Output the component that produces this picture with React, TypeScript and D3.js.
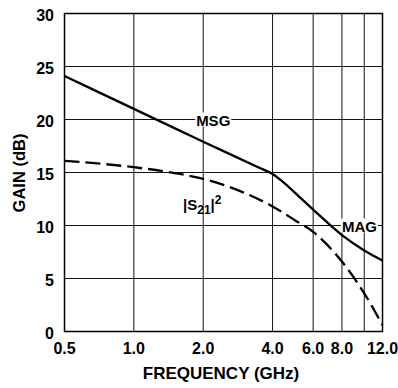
import React from 'react';
import * as d3 from 'd3';

// frequency in GHz, gain in dB
const msgFreq = [0.5, 1.0, 2.0, 3.5, 4.0, 4.5, 5.2, 6.0, 8.0, 10.0, 12.0];
const msgGain = [24.1, 21.0, 17.9, 15.45, 14.85, 14.0, 12.75, 11.5, 9.1, 7.65, 6.7];

const s21Freq = [0.5, 1.0, 1.5, 2.0, 3.0, 4.0, 5.0, 6.0, 8.0, 10.0, 12.0];
const s21Gain = [16.1, 15.5, 14.95, 14.4, 13.1, 11.8, 10.5, 9.4, 6.6, 3.6, 0.6];

const xTicks = [0.5, 1.0, 2.0, 4.0, 6.0, 8.0, 12.0];
const xGrid = [1, 2, 4, 6, 8, 10];
const yTicks = [0, 5, 10, 15, 20, 25, 30];
const yGrid = [5, 10, 15, 20, 25];

const W = 398;
const H = 388;
const FONT = '"Liberation Sans", Arial, Helvetica, sans-serif';

const App = () => {
  const x = d3.scaleLog().domain([0.5, 12]).range([64.5, 382.5]);
  const y = d3.scaleLinear().domain([0, 30]).range([331.5, 13.5]);

  const line = d3.line<[number, number]>()
    .x(d => x(d[0]))
    .y(d => y(d[1]))
    .curve(d3.curveMonotoneX);

  const msg = line(msgFreq.map((f, i) => [f, msgGain[i]]));
  const s21 = line(s21Freq.map((f, i) => [f, s21Gain[i]]));

  const [x0, x1] = x.range();
  const [y0, y1] = y.range();

  return (
    <svg width={W} height={H} style={{ position: 'absolute', left: 0, top: 0, background: '#fff' }}
      fontFamily={FONT} fontWeight="bold">
      {/* grid */}
      {yGrid.map(v => (
        <line key={'gy' + v} x1={x0} x2={x1} y1={y(v)} y2={y(v)} stroke="#111" strokeWidth={1} />
      ))}
      {xGrid.map(v => (
        <line key={'gx' + v} x1={x(v)} x2={x(v)} y1={y1} y2={y0} stroke="#111" strokeWidth={1} />
      ))}
      <rect x={x0} y={y1} width={x1 - x0} height={y0 - y1} fill="none" stroke="#000" strokeWidth={1.5} />

      {/* curves */}
      <path d={msg || ''} fill="none" stroke="#000" strokeWidth={2.3} />
      <path d={s21 || ''} fill="none" stroke="#000" strokeWidth={2.3} strokeDasharray="15,6" />

      {/* curve labels */}
      <rect x={x(2.0) - 8} y={y(20) - 7} width={36} height={14} fill="#fff" />
      <text x={x(2.0) + 10} y={y(20) + 6} fontSize={15} textAnchor="middle">MSG</text>
      <rect x={x(8.0) - 1} y={y(10) - 7} width={37} height={14} fill="#fff" />
      <text x={x(8.0) + 17.5} y={y(10) + 6} fontSize={15} textAnchor="middle">MAG</text>
      <text x={183} y={y(12.2) + 8} fontSize={15}>
        |S<tspan fontSize={12} dy={4}>21</tspan><tspan dy={-4}>|</tspan><tspan fontSize={12} dy={-6}>2</tspan>
      </text>

      {/* y axis */}
      {yTicks.map(v => (
        <text key={'ty' + v} x={54} y={y(v) + 7} fontSize={16} textAnchor="end">{v}</text>
      ))}
      {/* x axis */}
      {xTicks.map(v => (
        <text key={'tx' + v} x={x(v)} y={354} fontSize={16} textAnchor="middle">{v.toFixed(1)}</text>
      ))}

      <text x={221} y={379} fontSize={17} textAnchor="middle">FREQUENCY (GHz)</text>
      <text transform={`translate(24.5,${173}) rotate(-90)`} fontSize={16.5} textAnchor="middle">GAIN (dB)</text>
    </svg>
  );
};

export default App;
